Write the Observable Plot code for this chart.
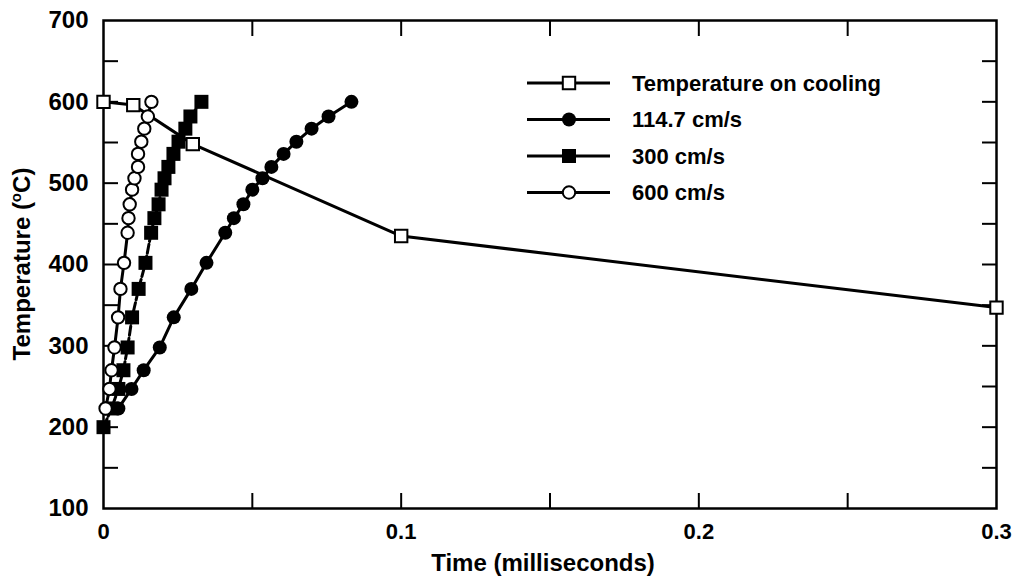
<!DOCTYPE html>
<html><head><meta charset="utf-8">
<script src="https://cdn.jsdelivr.net/npm/d3@7"></script>
<script src="https://cdn.jsdelivr.net/npm/@observablehq/plot@0.6"></script>
<style>body{margin:0;background:#fff} svg{display:block}</style>
</head><body><div id="chart"></div>
<script>
// Temperature levels (°C) shared by the three velocity series
const temps = [223,247,270,298,335,370,402,439,457,474,492,506,520,536,551,567,582,600];
// 114.7 cm/s : time (ms)
const time114 = [0.0050,0.0094,0.0135,0.0189,0.0236,0.0295,0.0346,0.0409,0.0438,0.0470,0.0500,0.0534,0.0564,0.0605,0.0648,0.0699,0.0756,0.0833];
// 300 cm/s : starts at 200 °C
const temps300 = [200,223,247,270,298,335,370,402,439,457,474,492,506,520,536,551,567,582,600];
const time300 = [0,0.0027,0.0050,0.0067,0.0081,0.0096,0.0118,0.0141,0.0160,0.0171,0.0185,0.0195,0.0205,0.0218,0.0235,0.0252,0.0275,0.0292,0.0329];
// 600 cm/s
const time600 = [0.0007,0.0020,0.0027,0.0037,0.0049,0.0057,0.0069,0.0081,0.0084,0.0088,0.0096,0.0104,0.0116,0.0116,0.0127,0.0137,0.0149,0.0161];
// Temperature on cooling
const coolTime = [0,0.01,0.03,0.1,0.3];
const coolTemp = [600,596,548,435,347];

const xTickLabels = [0,0.1,0.2,0.3];
const xMinorTicks = [0.05,0.1,0.15,0.2,0.25];
const yTickLabels = [100,200,300,400,500,600,700];
const yMinorTicks = [150,200,250,300,350,400,450,500,550,600,650];

const seriesNames = ["Temperature on cooling","114.7 cm/s","300 cm/s","600 cm/s"];
const seriesSymbols = ["square","circle","square","circle"];
const seriesFills = ["white","black","black","white"];

const rows114 = temps.map((t,i)=>({x:time114[i], y:t}));
const rows300 = temps300.map((t,i)=>({x:time300[i], y:t}));
const rows600 = temps.map((t,i)=>({x:time600[i], y:t}));
const rowsCool = coolTemp.map((t,i)=>({x:coolTime[i], y:t}));

const FONT = "'Liberation Sans', Arial, Helvetica, sans-serif";
const lw = 3;

const plot = Plot.plot({
  width: 1012, height: 578,
  marginLeft: 103, marginRight: 16, marginTop: 20, marginBottom: 70,
  x: {domain: [0, 0.3], label: null},
  y: {domain: [100, 700], label: null},
  style: {fontFamily: FONT, fontWeight: "bold", fontSize: "24px", color: "black", background: "white"},
  marks: [
    Plot.axisY(yTickLabels, {anchor: "left", tickSize: 0, tickPadding: 15, fontSize: 24, label: null}),
    Plot.axisY(yMinorTicks, {anchor: "left", tickSize: -15, strokeWidth: 2, fill: "none", label: null}),
    Plot.axisY(yMinorTicks, {anchor: "right", tickSize: -15, strokeWidth: 2, fill: "none", label: null}),
    Plot.axisX(xTickLabels, {anchor: "bottom", tickSize: 0, tickPadding: 15, fontSize: 22, label: null, tickFormat: d => d === 0 ? "0" : d3.format(".1f")(d)}),
    Plot.axisX(xMinorTicks, {anchor: "bottom", tickSize: -15, strokeWidth: 2, fill: "none", label: null}),
    Plot.axisX(xMinorTicks, {anchor: "top", tickSize: -15, strokeWidth: 2, fill: "none", label: null}),
    Plot.frame({stroke: "black", strokeWidth: 2.5}),
    Plot.line(rowsCool, {x: "x", y: "y", stroke: "black", strokeWidth: lw}),
    Plot.line(rows114, {x: "x", y: "y", stroke: "black", strokeWidth: lw}),
    Plot.line(rows300, {x: "x", y: "y", stroke: "black", strokeWidth: lw, strokeDasharray: "9,3"}),
    Plot.line(rows600, {x: "x", y: "y", stroke: "black", strokeWidth: lw}),
    Plot.dot(rows114, {x: "x", y: "y", symbol: "circle", r: 7, fill: "black", stroke: "none"}),
    Plot.dot(rows300, {x: "x", y: "y", symbol: "square", r: 7.9, fill: "black", stroke: "none"}),
    Plot.dot(rows600, {x: "x", y: "y", symbol: "circle", r: 6.2, fill: "white", stroke: "black", strokeWidth: 2}),
    Plot.dot(rowsCool, {x: "x", y: "y", symbol: "square", r: 7, fill: "white", stroke: "black", strokeWidth: 2})
  ]
});

document.getElementById("chart").appendChild(plot);
const svg = d3.select(plot);

// force tick label fonts (inline style)
const ySet = new Set(yTickLabels.map(String));
const xSet = new Set(xTickLabels.map(d => d === 0 ? "0" : d3.format(".1f")(d)));
svg.selectAll("text").each(function() {
  const t = this.textContent.trim();
  const inY = this.closest('g[aria-label*="y-axis"]');
  const inX = this.closest('g[aria-label*="x-axis"]');
  if (inY && ySet.has(t)) d3.select(this).style("font-size", "24px").style("font-weight", "bold");
  else if (inX && xSet.has(t)) d3.select(this).style("font-size", "22px").style("font-weight", "bold");
});

// Axis titles
const ys = plot.scale("y");
svg.append("text")
  .attr("x", 543).attr("y", 571)
  .attr("text-anchor", "middle")
  .style("font-family", FONT).style("font-weight", "bold").style("font-size", "24px")
  .attr("fill", "black")
  .text("Time (milliseconds)");

const yl = svg.append("text")
  .attr("transform", `translate(30,${(ys.range[0]+ys.range[1])/2}) rotate(-90)`)
  .attr("text-anchor", "middle")
  .style("font-family", FONT).style("font-weight", "bold").style("font-size", "24px")
  .attr("fill", "black");
yl.append("tspan").text("Temperature (");
yl.append("tspan").style("font-size", "15px").attr("dy", -9).text("o");
yl.append("tspan").attr("dy", 9).text("C)");

// Legend
const lg = svg.append("g");
seriesNames.forEach((name, i) => {
  const cy = 83 + i * 36.5;
  lg.append("line").attr("x1", 527).attr("x2", 610).attr("y1", cy).attr("y2", cy)
    .attr("stroke", "black").attr("stroke-width", lw);
  const isSq = seriesSymbols[i] === "square";
  const r = isSq ? (seriesFills[i] === "white" ? 7 : 7.9) : (seriesFills[i] === "white" ? 6.2 : 7);
  const sym = d3.symbol(isSq ? d3.symbolSquare : d3.symbolCircle, Math.PI * r * r)();
  lg.append("path").attr("d", sym).attr("transform", `translate(569,${cy})`)
    .attr("fill", seriesFills[i]).attr("stroke", seriesFills[i] === "white" ? "black" : "none")
    .attr("stroke-width", 2);
  lg.append("text").attr("x", 632).attr("y", cy).attr("dy", "0.35em")
    .attr("text-anchor", "start")
    .style("font-family", FONT).style("font-weight", "bold").style("font-size", "22px")
    .attr("fill", "black").text(name);
});
</script>
</body></html>
